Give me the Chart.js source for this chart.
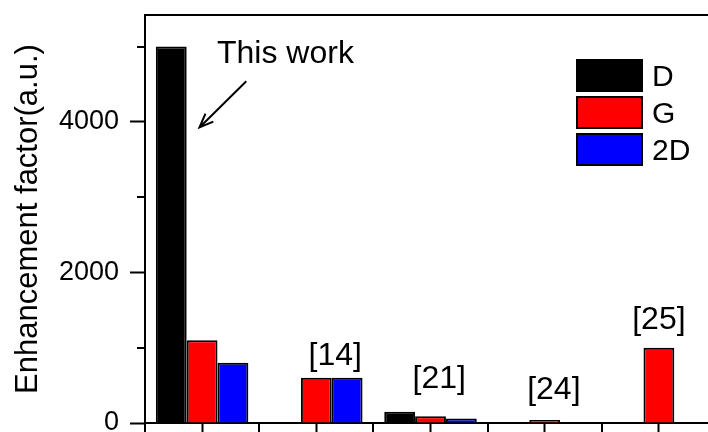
<!DOCTYPE html>
<html>
<head>
<meta charset="utf-8">
<script src="https://cdn.jsdelivr.net/npm/chart.js@4"></script>
<style>
  html, body { margin: 0; padding: 0; background: #fff; overflow: hidden; }
  canvas { display: block; }
</style>
</head>
<body>
<canvas id="c" width="740" height="470"></canvas>
<script>
// Enhancement factors of the D, G and 2D Raman bands, this work vs. references
const categories = ['This work', 'Ref. 14', 'Ref. 21', 'Ref. 24', 'Ref. 25'];
const seriesNames = ['D', 'G', '2D'];
const dValues   = [5000, null, 150, null, null];
const gValues   = [1100, 600, 90, 40, 1000];
const twoDValues = [800, 600, 60, null, null];
const seriesColors = ['#000000', '#ff0000', '#0000ff'];

// y axis range and tick layout
const yMax = 5420;
const yMajorTicks = [0, 2000, 4000];
const yMinorTicks = [1000, 3000, 5000];

// reference tags above each group (x: category index, y: baseline in data units)
const refNotes = [
  { x: 1.166, y: 767,  text: '[14]' },
  { x: 2.076, y: 466,  text: '[21]' },
  { x: 3.08,  y: 316,  text: '[24]' },
  { x: 4.0,   y: 1244, text: '[25]' }
];
// "This work" caption and its arrow (x: category index, y: data units)
const captionNote = { x: 0.73, y: 4776, text: 'This work' };
const captionArrow = { from: { x: 0.387, y: 4541 }, to: { x: -0.023, y: 3926 } };

const FONT = "'Liberation Sans', Arial, Helvetica, sans-serif";
Chart.defaults.color = '#000';
Chart.defaults.font.family = FONT;

// Frame line along the top and right of the plot
const framePlugin = {
  id: 'frame',
  afterDraw(chart) {
    const { ctx, chartArea: a } = chart;
    ctx.save();
    ctx.strokeStyle = '#000';
    ctx.lineWidth = 2;
    ctx.beginPath();
    ctx.moveTo(a.left, a.top);
    ctx.lineTo(a.right, a.top);
    ctx.lineTo(a.right, a.bottom);
    ctx.stroke();
    ctx.restore();
  }
};

// Minor ticks: odd thousands on y, category boundaries on x
const minorTicksPlugin = {
  id: 'minorTicks',
  afterDraw(chart) {
    const { ctx, chartArea: a } = chart;
    const y = chart.scales.y, x = chart.scales.x;
    ctx.save();
    ctx.strokeStyle = '#000';
    ctx.lineWidth = 2;
    ctx.beginPath();
    yMinorTicks.forEach(v => {
      const py = Math.round(y.getPixelForValue(v));
      ctx.moveTo(a.left, py);
      ctx.lineTo(a.left - 8, py);
    });
    for (let i = 0; i <= categories.length; i++) {
      const px = Math.round(x.getPixelForValue(i - 0.5));
      ctx.moveTo(px, a.bottom);
      ctx.lineTo(px, a.bottom + 12);
    }
    ctx.stroke();
    ctx.restore();
  }
};

// Text notes and the arrow pointing at this work's bars
const notesPlugin = {
  id: 'notes',
  afterDatasetsDraw(chart) {
    const { ctx } = chart;
    const x = chart.scales.x, y = chart.scales.y;
    ctx.save();
    ctx.fillStyle = '#000';
    ctx.textBaseline = 'alphabetic';
    ctx.textAlign = 'center';
    ctx.font = '32px ' + FONT;
    refNotes.forEach(n => {
      ctx.fillText(n.text, x.getPixelForValue(n.x), y.getPixelForValue(n.y));
    });
    ctx.fillText(captionNote.text, x.getPixelForValue(captionNote.x), y.getPixelForValue(captionNote.y));

    const x0 = x.getPixelForValue(captionArrow.from.x), y0 = y.getPixelForValue(captionArrow.from.y);
    const x1 = x.getPixelForValue(captionArrow.to.x),   y1 = y.getPixelForValue(captionArrow.to.y);
    const ang = Math.atan2(y0 - y1, x0 - x1);
    const head = 15, spread = 0.38;
    ctx.strokeStyle = '#000';
    ctx.lineWidth = 2;
    ctx.beginPath();
    ctx.moveTo(x0, y0);
    ctx.lineTo(x1, y1);
    ctx.moveTo(x1 + head * Math.cos(ang - spread), y1 + head * Math.sin(ang - spread));
    ctx.lineTo(x1, y1);
    ctx.lineTo(x1 + head * Math.cos(ang + spread), y1 + head * Math.sin(ang + spread));
    ctx.stroke();
    ctx.restore();
  }
};

// Legend drawn inside the plot, upper right
const legendPlugin = {
  id: 'boxLegend',
  afterDraw(chart) {
    const { ctx } = chart;
    const left = 577, top = 60, w = 65, h = 31, step = 37;
    ctx.save();
    ctx.font = '30px ' + FONT;
    ctx.textAlign = 'left';
    ctx.textBaseline = 'middle';
    chart.data.datasets.forEach((ds, i) => {
      const ty = top + i * step;
      ctx.fillStyle = ds.backgroundColor;
      ctx.fillRect(left, ty, w, h);
      ctx.strokeStyle = '#000';
      ctx.lineWidth = 2;
      ctx.strokeRect(left, ty, w, h);
      ctx.fillStyle = '#000';
      ctx.fillText(ds.label, left + w + 10, ty + h / 2 + 2);
    });
    ctx.restore();
  }
};

const seriesValues = [dValues, gValues, twoDValues];

new Chart(document.getElementById('c'), {
  type: 'bar',
  data: {
    labels: categories,
    datasets: seriesNames.map((name, i) => ({
      label: name,
      data: seriesValues[i],
      backgroundColor: seriesColors[i],
      borderColor: '#000',
      borderWidth: 2,
      categoryPercentage: 0.81,
      barPercentage: 1.0
    }))
  },
  options: {
    responsive: false,
    animation: false,
    events: [],
    layout: { padding: { top: 15, right: 24, left: 0, bottom: 0 } },
    plugins: {
      legend: { display: false },
      tooltip: { enabled: false }
    },
    scales: {
      x: {
        offset: true,
        grid: { offset: false, drawOnChartArea: false, tickLength: 12, tickWidth: 2, tickColor: '#000' },
        border: { color: '#000', width: 2 },
        ticks: { display: false },
        afterFit(scale) {
          scale.height = 47;
          scale.paddingLeft = 0;
          scale.paddingRight = 0;
        }
      },
      y: {
        min: 0,
        max: yMax,
        grid: { drawOnChartArea: false, tickLength: 15, tickWidth: 2, tickColor: '#000' },
        border: { color: '#000', width: 2 },
        afterBuildTicks(scale) {
          scale.ticks = yMajorTicks.map(v => ({ value: v }));
        },
        ticks: {
          padding: 11,
          color: '#000',
          font: { size: 27, family: FONT },
          callback: v => String(v)
        },
        title: {
          display: true,
          text: 'Enhancement factor(a.u.)',
          color: '#000',
          font: { size: 31, family: FONT },
          padding: { top: 10, bottom: 0 }
        },
        afterFit(scale) {
          scale.width = 145;
          scale.paddingTop = 0;
          scale.paddingBottom = 0;
        }
      }
    }
  },
  plugins: [framePlugin, minorTicksPlugin, notesPlugin, legendPlugin]
});
</script>
</body>
</html>
